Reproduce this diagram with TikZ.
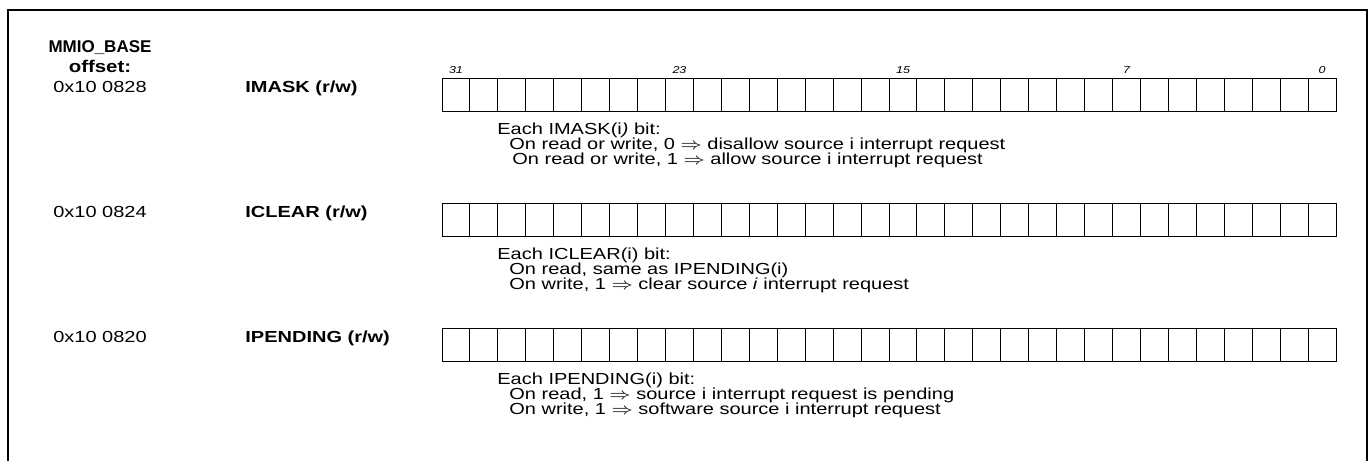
\documentclass[tikz,border=0pt]{standalone}
\usepackage{fontspec}
\setmainfont{Liberation Sans}
\usepackage{amsmath}
\usepackage{graphicx}
\newcommand{\wide}[1]{\scalebox{1.25}[1]{#1}}
\begin{document}
\begin{tikzpicture}[x=0.5pt,y=-0.5pt,
		every node/.style={inner sep=0pt},
		lbl/.style={font=\fontsize{8}{9}\selectfont,anchor=base},
		head/.style={font=\fontsize{8.5}{9}\selectfont\bfseries,anchor=base},
		regname/.style={font=\fontsize{8}{9}\selectfont\bfseries,anchor=base west},
		bitno/.style={font=\fontsize{5}{6}\selectfont\itshape,anchor=base},
		desc/.style={font=\fontsize{8}{9}\selectfont,anchor=base west}]
		\useasboundingbox (0,0) rectangle (1370,461);
		\draw[line width=1pt] (8,461) -- (8,10) -- (1367,10) -- (1367,461);
		\node[head] (base) at (100,52) {MMIO\_BASE};
		\node[head] (offset) at (100,72) {\scalebox{1.2}[1]{offset:}};
		\foreach \y in {78,203,328}
			\foreach \i in {0,...,31}
				\draw[line width=.5pt] ({442+\i*27.94},\y) rectangle ++(27.94,33);
		\foreach \b in {31,23,15,7,0}
			\node[bitno] (bit\b) at ({442+(31.5-\b)*27.94},73) {\wide{\b}};
		\node[lbl] (amask) at (100,92) {\wide{0x10 0828}};
		\node[regname] (nmask) at (245,92) {\wide{IMASK (r/w)}};
		\node[desc] (mask0) at (497,134) {\wide{Each IMASK(i\textit{)} bit:}};
		\node[desc] (mask1) at (509,149) {\wide{On read or write, 0 $\Rightarrow$ disallow source i interrupt request}};
		\node[desc] (mask2) at (512,164) {\wide{On read or write, 1 $\Rightarrow$ allow source i interrupt request}};
		\node[lbl] (aclr) at (100,217) {\wide{0x10 0824}};
		\node[regname] (nclr) at (245,217) {\wide{ICLEAR (r/w)}};
		\node[desc] (clr0) at (497,259) {\wide{Each ICLEAR(i) bit:}};
		\node[desc] (clr1) at (509,274) {\wide{On read, same as IPENDING(i)}};
		\node[desc] (clr2) at (509,289) {\wide{On write, 1 $\Rightarrow$ clear source \textit{i} interrupt request}};
		\node[lbl] (apnd) at (100,342) {\wide{0x10 0820}};
		\node[regname] (npnd) at (245,342) {\wide{IPENDING (r/w)}};
		\node[desc] (pnd0) at (497,384) {\wide{Each IPENDING(i) bit:}};
		\node[desc] (pnd1) at (509,399) {\wide{On read, 1 $\Rightarrow$ source i interrupt request is pending}};
		\node[desc] (pnd2) at (509,414) {\wide{On write, 1 $\Rightarrow$ software source i interrupt request}};
\end{tikzpicture}
\end{document}
